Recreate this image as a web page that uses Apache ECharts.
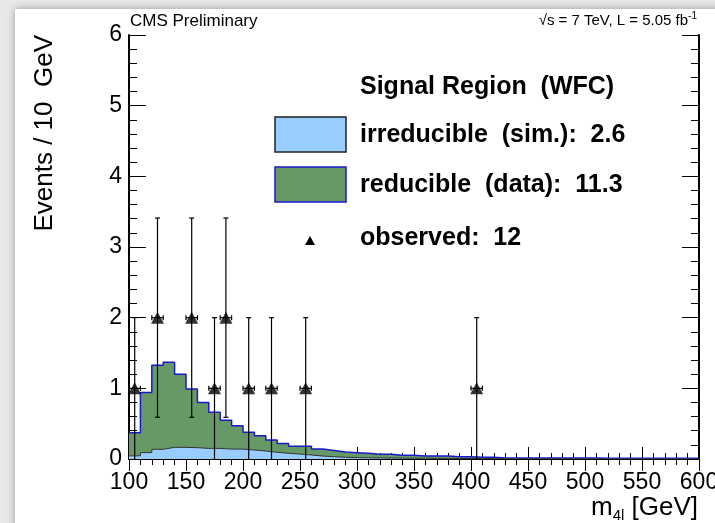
<!DOCTYPE html>
<html><head><meta charset="utf-8">
<script src="https://cdn.jsdelivr.net/npm/echarts@6/dist/echarts.min.js"></script>
<style>html,body{margin:0;padding:0;background:#e9e9e9}#c{width:715px;height:523px}</style>
</head><body><div id="c"></div>
<script>
// ---- data ----
const binWidth = 10;
const binLow = [100,110,120,130,140,150,160,170,180,190,200,210,220,230,240,250,260,270,280,290,
  300,310,320,330,340,350,360,370,380,390,400,410,420,430,440,450,460,470,480,490,
  500,510,520,530,540,550,560,570,580,590];
const irreducible = [0.045,0.09,0.137,0.165,0.165,0.16,0.15,0.15,0.14,0.14,
  0.127,0.113,0.095,0.08,0.07,0.057,0.042,0.033,0.024,0.02,
  0.017,0.015,0.013,0.012,0.011,0.010,0.009,0.008,0.007,0.007,
  0.006,0.006,0.005,0.005,0.005,0.004,0.004,0.004,0.004,0.004,
  0.003,0.003,0.003,0.003,0.003,0.003,0.003,0.002,0.002,0.002];
const reducible = [0.325,0.85,1.19,1.205,1.035,0.83,0.65,0.51,0.41,0.33,
  0.253,0.217,0.175,0.14,0.11,0.123,0.098,0.087,0.076,0.07,
  0.063,0.051,0.053,0.040,0.041,0.032,0.033,0.034,0.026,0.026,
  0.018,0.018,0.009,0.009,0.009,0.010,0.010,0.010,0.010,0.010,
  0.010,0.009,0.009,0.009,0.009,0.008,0.008,0.008,0.008,0.008];
const obsX = [105,125,155,175,185,205,225,255,405];
const obsY = [1,2,2,1,2,1,1,1,1];
const obsErrLow = [1,1.41,1.41,1,1.41,1,1,1,1];
const obsErrHigh = [1,1.41,1.41,1,1.41,1,1,1,1];
const legendTitle = 'Signal Region  (WFC)';
const legendIrr = 'irreducible  (sim.):  2.6';
const legendRed = 'reducible  (data):  11.3';
const legendObs = 'observed:  12';

// ---- build ----
const total = irreducible.map((v,i)=>v+reducible[i]);
function stepData(vals){
  const d = binLow.map((x,i)=>[x, vals[i]]);
  d.push([binLow[binLow.length-1]+binWidth, vals[vals.length-1]]);
  return d;
}
const obsData = obsX.map((x,i)=>[x, obsY[i], obsErrLow[i], obsErrHigh[i]]);
const FONT = 'Liberation Sans, Helvetica, Arial, sans-serif';

const chart = echarts.init(document.getElementById('c'));
const tickX = {inside:true, length:12, lineStyle:{color:'#000', width:1}};
const minorX = {show:true, splitNumber:5, length:6, lineStyle:{color:'#000', width:1}};
const tickY = {inside:true, length:17, lineStyle:{color:'#000', width:1}};
const minorY = {show:true, splitNumber:5, length:8, lineStyle:{color:'#000', width:1}};
const axLine = {show:true, lineStyle:{color:'#000', width:2}};

chart.setOption({
  backgroundColor:'#e9e9e9',
  animation:false,
  grid:{left:129, right:16, top:35, bottom:64, containLabel:false, outerBoundsMode:'none'},
  xAxis:[
    {type:'value', min:100, max:600, interval:50, position:'bottom',
     axisLine:axLine, axisTick:tickX, minorTick:minorX, splitLine:{show:false},
     axisLabel:{color:'#000', fontFamily:FONT, fontSize:23, margin:12, showMaxLabel:true, hideOverlap:false}},
    {type:'value', min:100, max:600, interval:50, position:'top',
     axisLine:axLine, axisTick:tickX, minorTick:minorX, splitLine:{show:false},
     axisLabel:{show:false}}
  ],
  yAxis:[
    {type:'value', min:0, max:6, interval:1, position:'left',
     axisLine:axLine, axisTick:tickY, minorTick:minorY, splitLine:{show:false},
     axisLabel:{color:'#000', fontFamily:FONT, fontSize:23, margin:7}},
    {type:'value', min:0, max:6, interval:1, position:'right',
     axisLine:axLine, axisTick:tickY, minorTick:minorY, splitLine:{show:false},
     axisLabel:{show:false}}
  ],
  graphic:[
    {type:'rect', z:-10, shape:{x:15, y:9, width:720, height:540},
     style:{fill:'#fff', shadowBlur:8, shadowColor:'rgba(0,0,0,0.35)'}},
    {type:'text', x:130, y:21, style:{text:'CMS Preliminary', font:'17px '+FONT, fill:'#000', verticalAlign:'middle'}},
    {type:'text', x:697, y:21, style:{text:'√s = 7 TeV, L = 5.05 fb{sup|-1}', font:'15px '+FONT, fill:'#000', align:'right', verticalAlign:'middle',
      rich:{sup:{fontSize:10, verticalAlign:'top', padding:[0,0,10,0]}}}},
    {type:'text', x:45, y:35, rotation:Math.PI/2,
     style:{text:'Events / 10  GeV', font:'26px '+FONT, fill:'#000', align:'right', verticalAlign:'middle'}},
    {type:'text', x:698, y:508,
     style:{text:'m{sub|4l} [GeV]', font:'26px '+FONT, fill:'#000', align:'right', verticalAlign:'middle',
      rich:{sub:{fontSize:15, padding:[15,0,0,0]}}}},
    {type:'text', x:360, y:87, style:{text:legendTitle, font:'bold 25px '+FONT, fill:'#000', verticalAlign:'middle'}},
    {type:'rect', shape:{x:275, y:117, width:71, height:35}, style:{fill:'#99ccff', stroke:'#222', lineWidth:1.5}},
    {type:'text', x:360, y:135, style:{text:legendIrr, font:'bold 25px '+FONT, fill:'#000', verticalAlign:'middle'}},
    {type:'rect', shape:{x:275, y:167, width:71, height:35}, style:{fill:'#669966', stroke:'#1a1acc', lineWidth:1.5}},
    {type:'text', x:360, y:185, style:{text:legendRed, font:'bold 25px '+FONT, fill:'#000', verticalAlign:'middle'}},
    {type:'polygon', shape:{points:[[310,236],[305,245],[315,245]]}, style:{fill:'#000'}},
    {type:'text', x:360, y:238, style:{text:legendObs, font:'bold 25px '+FONT, fill:'#000', verticalAlign:'middle'}}
  ],
  series:[
    {type:'line', name:'total', data:stepData(total), step:'end', showSymbol:false, z:2,
     lineStyle:{color:'#1a1acc', width:1.5}, areaStyle:{color:'#669966', opacity:1, origin:'start'}},
    {type:'line', name:'irreducible', data:stepData(irreducible), step:'end', showSymbol:false, z:3,
     lineStyle:{color:'#333', width:1}, areaStyle:{color:'#99ccff', opacity:1, origin:'start'}},
    {type:'custom', name:'errors', z:4, data:obsData, clip:false,
     renderItem:function(params, api){
       const x = api.value(0), y = api.value(1), lo = api.value(2), hi = api.value(3);
       const c = api.coord([x,y]);
       const t = api.coord([x, y+hi]);
       const b = api.coord([x, Math.max(0, y-lo)]);
       const l = api.coord([x-binWidth/2, y]);
       const r = api.coord([x+binWidth/2, y]);
       const st = {stroke:'#000', lineWidth:1.2};
       const ch = [
         {type:'line', shape:{x1:c[0], y1:b[1], x2:c[0], y2:t[1]}, style:st},
         {type:'line', shape:{x1:c[0]-2.5, y1:t[1], x2:c[0]+2.5, y2:t[1]}, style:st},
         {type:'line', shape:{x1:l[0], y1:c[1], x2:r[0], y2:c[1]}, style:st},
         {type:'line', shape:{x1:l[0], y1:c[1]-2.5, x2:l[0], y2:c[1]+2.5}, style:st},
         {type:'line', shape:{x1:r[0], y1:c[1]-2.5, x2:r[0], y2:c[1]+2.5}, style:st}
       ];
       if (y-lo > 0) ch.push({type:'line', shape:{x1:c[0]-2.5, y1:b[1], x2:c[0]+2.5, y2:b[1]}, style:st});
       return {type:'group', children:ch};
     }},
    {type:'scatter', name:'observed', z:5, data:obsData.map(d=>[d[0], d[1]]),
     symbol:'triangle', symbolSize:[13,12], itemStyle:{color:'#000'}}
  ]
});
</script></body></html>
